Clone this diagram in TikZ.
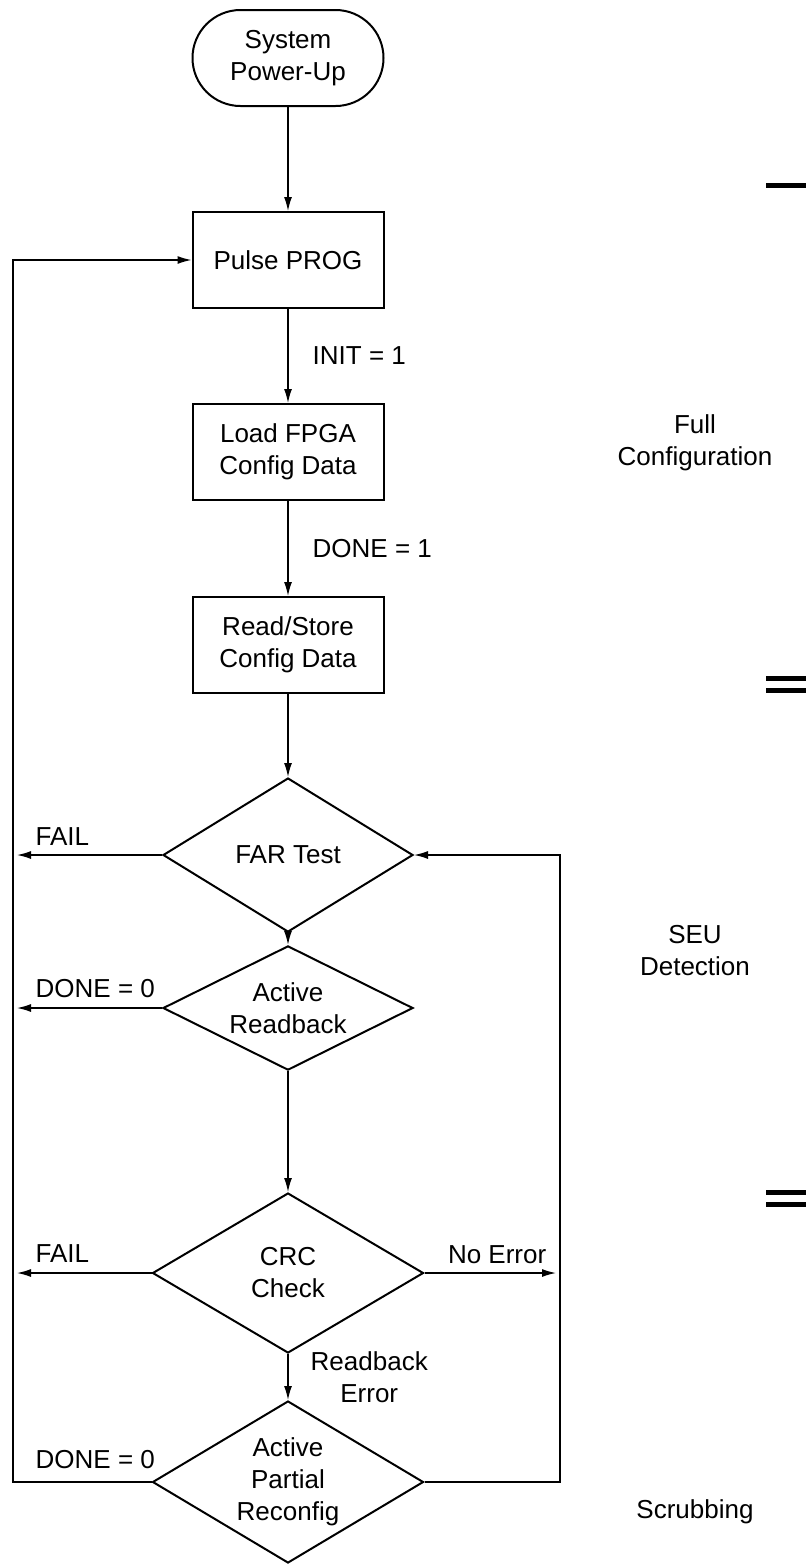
\documentclass[tikz,border=0pt]{standalone}
\usepackage{fontspec}
\setmainfont{Liberation Sans}
\usetikzlibrary{shapes.geometric,arrows.meta}

\begin{document}
\begin{tikzpicture}[x=.5pt,y=-.5pt,line width=.7pt,
  font=\fontsize{13}{16}\selectfont,
  >={Latex[length=7pt,width=4pt]},
  box/.style={draw,line width=1pt,minimum width=95.5pt,minimum height=48pt,align=center,inner sep=0pt},
  start/.style={box,rounded corners=24pt},
  test/.style={draw,line width=1pt,diamond,aspect=1.6,inner sep=0pt,align=center},
  lbl/.style={inner sep=0pt,align=left},
  bar/.style={line width=2.5pt}]
\useasboundingbox (0,0) rectangle (806,1564);
\coordinate (lft) at (13,0);
\coordinate (rgt) at (560,0);
\node[start] (pwr) at (288,58) {System\\Power-Up};
\node[box] (prog) at (288,260) {Pulse PROG};
\node[box] (load) at (288,452) {Load FPGA\\Config Data};
\node[box] (store) at (288,645) {Read/Store\\Config Data};
\node[test,minimum width=125pt,minimum height=77pt] (far) at (288,855) {FAR Test};
\node[test,minimum width=125pt,minimum height=56pt] (act) at (288,1008) {Active\\Readback};
\node[test,minimum width=135.5pt,minimum height=80pt] (crc) at (288,1273) {CRC\\Check};
\node[test,minimum width=135.5pt,minimum height=81pt] (part) at (288,1482) {Active\\Partial\\Reconfig};
\draw[->] (pwr) -- (prog);
\draw[->] (prog) -- node[lbl,anchor=west,xshift=12pt] (init) {INIT = 1} (load);
\draw[->] (load) -- node[lbl,anchor=west,xshift=12pt] (done) {DONE = 1} (store);
\draw[->] (store) -- (far);
\draw[->] (far) -- (act);
\draw[->] (act) -- (crc);
\draw[->] (crc) -- node[lbl,anchor=west,xshift=11pt,align=center] (rberr) {Readback\\Error} (part);
\draw[->,shorten >=2pt] (far.west) -- (far.west -| lft);
\draw[->,shorten >=2pt] (act.west) -- (act.west -| lft);
\draw[->,shorten >=2pt] (crc.west) -- (crc.west -| lft);
\draw[->,shorten >=2pt] (crc.east) -- (crc.east -| rgt);
\draw[->] (part.west) -- (part.west -| lft) |- (prog.west);
\draw[->] (part.east) -- (part.east -| rgt) |- (far.east);
\node[lbl,anchor=base west] (fail1) at (35,845) {FAIL};
\node[lbl,anchor=base west] (dz1) at (35,997) {DONE = 0};
\node[lbl,anchor=base west] (fail2) at (35,1262) {FAIL};
\node[lbl,anchor=base east] (noerr) at (547,1263) {No Error};
\node[lbl,anchor=base west] (dz2) at (35,1468) {DONE = 0};
\node[align=center] (full) at (695,443) {Full\\Configuration};
\node[align=center] (seu) at (695,951) {SEU\\Detection};
\node[align=center] (scrub) at (695,1512) {Scrubbing};
\draw[bar] (766,185) -- (806,185);
\draw[bar] (766,678) -- (806,678) (766,690) -- (806,690);
\draw[bar] (766,1192) -- (806,1192) (766,1204) -- (806,1204);
\end{tikzpicture}
\end{document}
